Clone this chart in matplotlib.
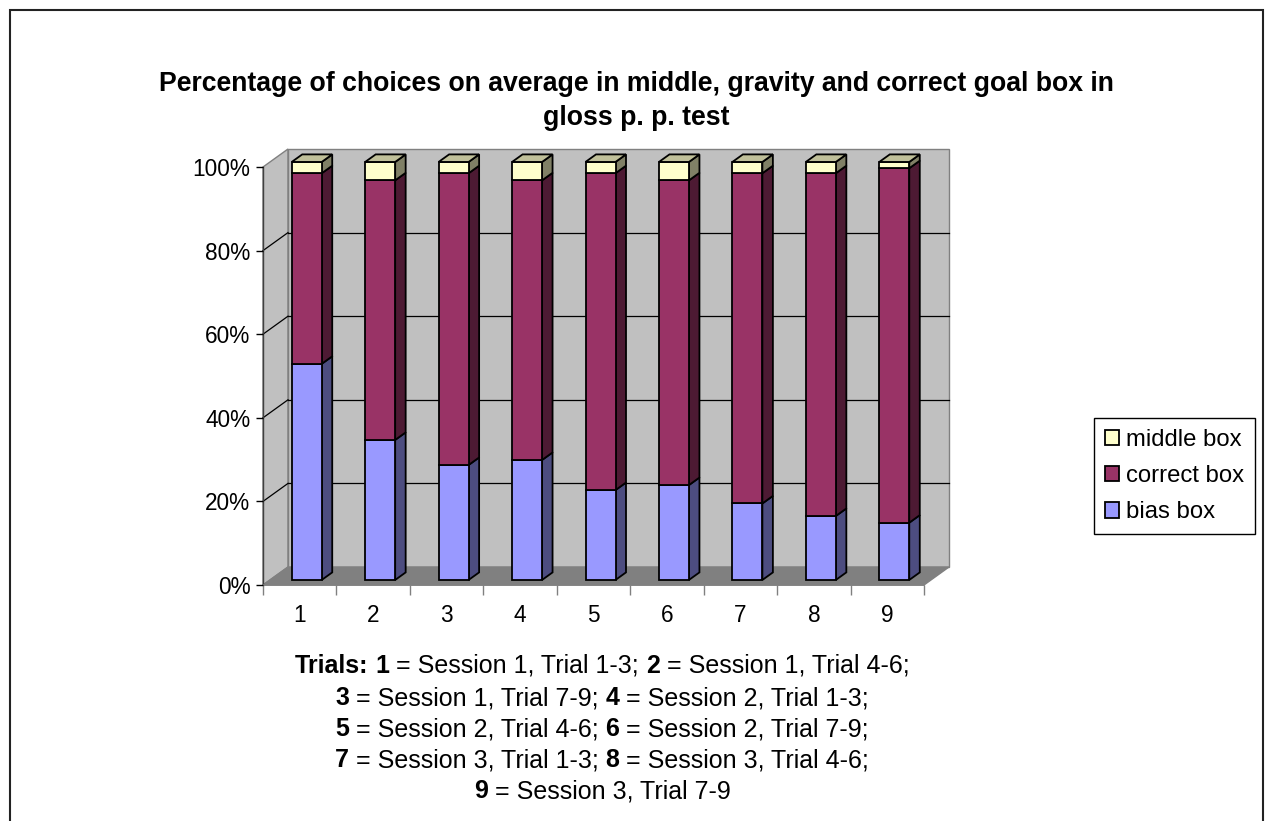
import matplotlib
matplotlib.use("Agg")
import matplotlib.pyplot as plt
from matplotlib.patches import Polygon, Rectangle
import numpy as np

# ---- data -------------------------------------------------------------
categories = ["1", "2", "3", "4", "5", "6", "7", "8", "9"]
bias_box = [51.7, 33.5, 27.5, 28.7, 21.5, 22.7, 18.3, 15.3, 13.7]
correct_box = [45.6, 62.1, 69.8, 66.9, 75.8, 72.9, 79.0, 82.0, 84.8]
middle_box = [2.7, 4.4, 2.7, 4.4, 2.7, 4.4, 2.7, 2.7, 1.5]
series_names = ["bias box", "correct box", "middle box"]
y_ticks = [0, 20, 40, 60, 80, 100]
y_tick_labels = ["0%", "20%", "40%", "60%", "80%", "100%"]

title_lines = ["Percentage of choices on average in middle, gravity and correct goal box in",
               "gloss p. p. test"]
# each line of the footnote: list of (text, bold)
note_lines = [
    [("Trials:", True), ("1", True), ("= Session 1, Trial 1-3;", False), ("2", True), ("= Session 1, Trial 4-6;", False)],
    [("3", True), ("= Session 1, Trial 7-9;", False), ("4", True), ("= Session 2, Trial 1-3;", False)],
    [("5", True), ("= Session 2, Trial 4-6;", False), ("6", True), ("= Session 2, Trial 7-9;", False)],
    [("7", True), ("= Session 3, Trial 1-3;", False), ("8", True), ("= Session 3, Trial 4-6;", False)],
    [("9", True), ("= Session 3, Trial 7-9", False)],
]

# ---- style ------------------------------------------------------------
FONT = "Liberation Sans"
plt.rcParams["font.family"] = [FONT, "DejaVu Sans"]
front_colors = ["#9999FF", "#993366", "#FFFFCC"]
side_colors = ["#4D4D80", "#4D1A33", "#808066"]
top_color = "#C0C09A"
wall_color = "#C0C0C0"
floor_color = "#808080"
edge_gray = "#808080"
TICK_FS = 16.3
NOTE_FS = 18.0
LEG_FS = 17.2
TITLE_FS = 19.2

W, H = 1266, 821
fig = plt.figure(figsize=(W / 100, H / 100), dpi=100)

# front plane of the 3-D box (pixel geometry of the plot area)
left_px, right_px, bottom_px, top_px = 263, 924, 585, 167
ax = fig.add_axes([left_px / W, 1 - bottom_px / H,
                   (right_px - left_px) / W, (bottom_px - top_px) / H])
n = len(categories)
ax.set_xlim(0, n)
ax.set_ylim(0, 100)
for s in ax.spines.values():
    s.set_visible(False)

# depth of the box in data units
px_x = (right_px - left_px) / n
px_y = (bottom_px - top_px) / 100
DX = 25 / px_x
DY = 18 / px_y

# walls and floor
left_wall = Polygon([(0, 0), (DX, DY), (DX, 100 + DY), (0, 100)], closed=True,
                    facecolor=wall_color, edgecolor=edge_gray, lw=1.0, clip_on=False, zorder=0)
back_wall = Polygon([(DX, DY), (n + DX, DY), (n + DX, 100 + DY), (DX, 100 + DY)], closed=True,
                    facecolor=wall_color, edgecolor=edge_gray, lw=1.0, clip_on=False, zorder=0)
floor = Polygon([(0, 0), (n, 0), (n + DX, DY), (DX, DY)], closed=True,
                facecolor=floor_color, edgecolor=edge_gray, lw=1.0, clip_on=False, zorder=0.5)
for p in (left_wall, back_wall, floor):
    ax.add_patch(p)

# gridlines on back and side walls
for v in y_ticks[1:-1]:
    ax.plot([DX, n + DX], [v + DY, v + DY], color="black", lw=0.9, clip_on=False, zorder=0.6)
    ax.plot([0, DX], [v, v + DY], color="black", lw=0.9, clip_on=False, zorder=0.6)

# bars
f_front = 0.28          # depth position of the bar front faces
f_bar = 0.42            # depth of each bar
bw = 30 / px_x
bx = np.arange(n) + 0.5 + f_front * DX
by0 = f_front * DY
bdx, bdy = f_bar * DX, f_bar * DY

series = [bias_box, correct_box, middle_box]
bottoms = np.zeros(n)
handles = []
for k, vals in enumerate(series):
    vals = np.asarray(vals, dtype=float)
    bars = ax.bar(bx, vals, width=bw, bottom=by0 + bottoms, color=front_colors[k],
                  edgecolor="black", lw=1.3, zorder=3, clip_on=False, label=series_names[k])
    handles.append(bars)
    for i in range(n):
        xr = bx[i] + bw / 2
        y0 = by0 + bottoms[i]
        y1 = y0 + vals[i]
        ax.add_patch(Polygon([(xr, y0), (xr + bdx, y0 + bdy), (xr + bdx, y1 + bdy), (xr, y1)],
                             closed=True, facecolor=side_colors[k], edgecolor="black",
                             lw=1.3, zorder=2.9, clip_on=False))
    bottoms = bottoms + vals

# top faces
for i in range(n):
    xl = bx[i] - bw / 2
    xr = bx[i] + bw / 2
    yt = by0 + bottoms[i]
    ax.add_patch(Polygon([(xl, yt), (xl + bdx, yt + bdy), (xr + bdx, yt + bdy), (xr, yt)],
                         closed=True, facecolor=top_color, edgecolor="black",
                         lw=1.3, zorder=3.1, clip_on=False))

# axes lines
ax.plot([0, 0], [0, 100], color="#404040", lw=1.0, clip_on=False, zorder=1)
ax.plot([0, n], [0, 0], color=edge_gray, lw=1.2, clip_on=False, zorder=1)

# ticks
ax.set_yticks(y_ticks)
ax.set_yticklabels(y_tick_labels, fontsize=TICK_FS, fontfamily=FONT)
ax.tick_params(axis="y", length=5, width=1, color="black", pad=4)
ax.set_xticks(np.arange(n + 1))
ax.set_xticklabels([""] * (n + 1))
ax.tick_params(axis="x", which="major", length=7, width=1, color=edge_gray)
ax.set_xticks(np.arange(n) + 0.5, minor=True)
ax.set_xticklabels(categories, minor=True, fontsize=TICK_FS, fontfamily=FONT)
ax.tick_params(axis="x", which="minor", length=0, pad=14)

# legend
leg = fig.legend(handles[::-1], series_names[::-1], loc="upper left",
                 bbox_to_anchor=(1094 / W, 1 - 418 / H), frameon=True, fancybox=False,
                 edgecolor="black", framealpha=1, prop={"family": FONT, "size": LEG_FS},
                 handlelength=0.6, handleheight=0.6, handletextpad=0.3,
                 labelspacing=0.6, borderpad=0.45, borderaxespad=0)
leg.get_frame().set_linewidth(1.0)

# title, one text per line
for line, yc in zip(title_lines, [84, 118]):
    fig.text(636 / W, 1 - yc / H, line, ha="center", va="center", fontsize=TITLE_FS,
             fontweight="bold", fontfamily=FONT)

# footnote with mixed weights, each line centred
renderer = fig.canvas.get_renderer()


def text_width(s, bold):
    t = fig.text(0, 0, s, fontsize=NOTE_FS, fontfamily=FONT,
                 fontweight="bold" if bold else "normal")
    w = t.get_window_extent(renderer).width
    t.remove()
    return w


space_w = text_width("a a", False) - text_width("aa", False)
note_cx = 602
note_y = [666, 698, 729, 760, 791]
for line, yc in zip(note_lines, note_y):
    widths = [text_width(s, b) for s, b in line]
    total = sum(widths) + space_w * (len(line) - 1)
    x = note_cx - total / 2
    for (s, b), w in zip(line, widths):
        fig.text(x / W, 1 - yc / H, s, fontsize=NOTE_FS, fontfamily=FONT,
                 fontweight="bold" if b else "normal", ha="left", va="center")
        x += w + space_w

# chart frame
fig.patches.append(Rectangle((9.5 / W, -0.02), (1262.5 - 9.5) / W, 1.02 - 10.5 / H,
                             transform=fig.transFigure, fill=False, edgecolor="#222222",
                             lw=1.5, zorder=10))

fig.savefig("out.png", dpi=100)
